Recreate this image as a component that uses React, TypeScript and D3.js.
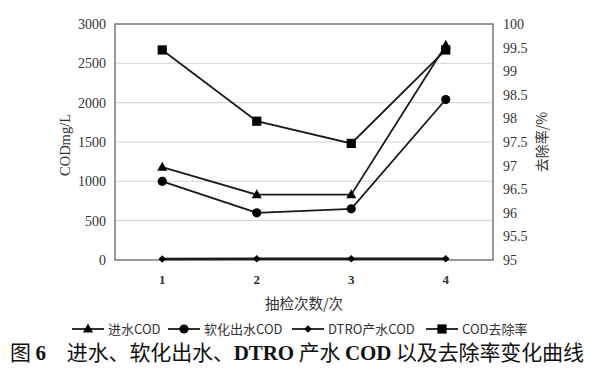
import * as d3 from "d3";

const ROUNDS: string[] = ["1", "2", "3", "4"];
const INFLOW: number[] = [1180, 830, 830, 2730];
const SOFTENED: number[] = [1000, 600, 650, 2040];
const DTRO: number[] = [12, 15, 15, 15];
const REMOVAL: number[] = [99.45, 97.94, 97.47, 99.45];
const LEFT_TICKS: number[] = [0, 500, 1000, 1500, 2000, 2500, 3000];
const RIGHT_TICKS: number[] = [95, 95.5, 96, 96.5, 97, 97.5, 98, 98.5, 99, 99.5, 100];
const LEGEND: string[] = ["进水COD", "软化出水COD", "DTRO产水COD", "COD去除率"];

const W = 595;
const H = 371;
const margin = { top: 24, right: 102, bottom: 111, left: 115 };
const IW = W - margin.left - margin.right;
const IH = H - margin.top - margin.bottom;

const latin = "'Liberation Serif', 'DejaVu Serif', serif";
const cjk = "'Noto Sans CJK SC', 'Liberation Serif', sans-serif";

type Shape = "triangle" | "circle" | "diamond" | "square";

const Marker = ({ shape, x, y }: { shape: Shape; x: number; y: number }) => {
  if (shape === "circle") return <circle cx={x} cy={y} r={4.6} fill="#000" />;
  if (shape === "square")
    return <rect x={x - 4.6} y={y - 4.6} width={9.2} height={9.2} fill="#000" />;
  if (shape === "triangle")
    return <path d={`M${x},${y - 5.5}L${x + 5},${y + 3.5}L${x - 5},${y + 3.5}Z`} fill="#000" />;
  return <path d={`M${x},${y - 3.8}L${x + 3.8},${y}L${x},${y + 3.8}L${x - 3.8},${y}Z`} fill="#000" />;
};

const App = () => {
  const x = d3.scaleBand<string>().domain(ROUNDS).range([0, IW]);
  const cx = (d: string) => (x(d) as number) + x.bandwidth() / 2;
  const yL = d3.scaleLinear().domain([0, 3000]).range([IH, 0]);
  const yR = d3.scaleLinear().domain([95, 100]).range([IH, 0]);

  const series: { values: number[]; scale: d3.ScaleLinear<number, number>; shape: Shape }[] = [
    { values: INFLOW, scale: yL, shape: "triangle" },
    { values: SOFTENED, scale: yL, shape: "circle" },
    { values: DTRO, scale: yL, shape: "diamond" },
    { values: REMOVAL, scale: yR, shape: "square" },
  ];

  // legend item starts (line start)
  const legendX = [72, 168, 292, 426];

  return (
    <svg
      width={W}
      height={H}
      style={{ position: "absolute", left: 0, top: 0, background: "#fff" }}
    >
      <g transform={`translate(${margin.left},${margin.top})`}>
        {LEFT_TICKS.map((t) => (
          <g key={t} transform={`translate(0,${yL(t)})`}>
            {t > 0 && t < 3000 && <line x1={0} x2={IW} stroke="#d4d4d4" strokeWidth={1} />}
            <text x={-9} dy="0.35em" textAnchor="end" fontFamily={latin} fontSize={14} fill="#333">
              {t}
            </text>
          </g>
        ))}
        {RIGHT_TICKS.map((t) => (
          <text key={t} x={IW + 10} y={yR(t)} dy="0.35em" fontFamily={latin} fontSize={14} fill="#333">
            {t}
          </text>
        ))}
        <rect x={0} y={0} width={IW} height={IH} fill="none" stroke="#555" strokeWidth={1.2} />
        {ROUNDS.map((r) => (
          <text key={r} x={cx(r)} y={IH + 24} textAnchor="middle" fontFamily={latin} fontSize={13} fontWeight="bold" fill="#333">
            {r}
          </text>
        ))}
        {series.map((s, i) => {
          const line = d3
            .line<number>()
            .x((_, j) => cx(ROUNDS[j]))
            .y((v) => s.scale(v));
          return (
            <g key={i}>
              <path d={line(s.values) as string} fill="none" stroke="#1a1a1a" strokeWidth={i === 2 ? 2.5 : 1.8} />
              {s.values.map((v, j) => (
                <Marker key={j} shape={s.shape} x={cx(ROUNDS[j])} y={s.scale(v)} />
              ))}
            </g>
          );
        })}
        <text
          transform={`translate(-45,${IH / 2 + 3}) rotate(-90)`}
          textAnchor="middle"
          fontFamily={latin}
          fontSize={14.5}
          fill="#333"
        >
          CODmg/L
        </text>
        <text
          transform={`translate(${IW + 54},${IH / 2}) rotate(-90)`}
          textAnchor="middle"
          fontFamily={cjk}
          fontSize={14}
          fill="#333"
        >
          去除率/%
        </text>
        <text x={IW / 2} y={IH + 49} textAnchor="middle" fontFamily={cjk} fontSize={14.5} fill="#333">
          抽检次数/次
        </text>
      </g>
      <g transform="translate(0,329)">
        {LEGEND.map((name, i) => (
          <g key={name} transform={`translate(${legendX[i]},0)`}>
            <line x1={0} x2={32} y1={0} y2={0} stroke="#1a1a1a" strokeWidth={1.8} />
            <Marker shape={series[i].shape} x={16} y={0} />
            <text x={36} dy="0.35em" fontFamily={cjk} fontSize={13} fill="#333">
              {name}
            </text>
          </g>
        ))}
      </g>
      <text x={10} y={360} fontFamily={cjk} fontSize={21} fill="#111" textLength={574} lengthAdjust="spacing">
        图 <tspan fontFamily={latin} fontWeight="bold">6</tspan>　进水、软化出水、
        <tspan fontFamily={latin} fontWeight="bold">DTRO</tspan> 产水{" "}
        <tspan fontFamily={latin} fontWeight="bold">COD</tspan> 以及去除率变化曲线
      </text>
    </svg>
  );
};

export default App;
